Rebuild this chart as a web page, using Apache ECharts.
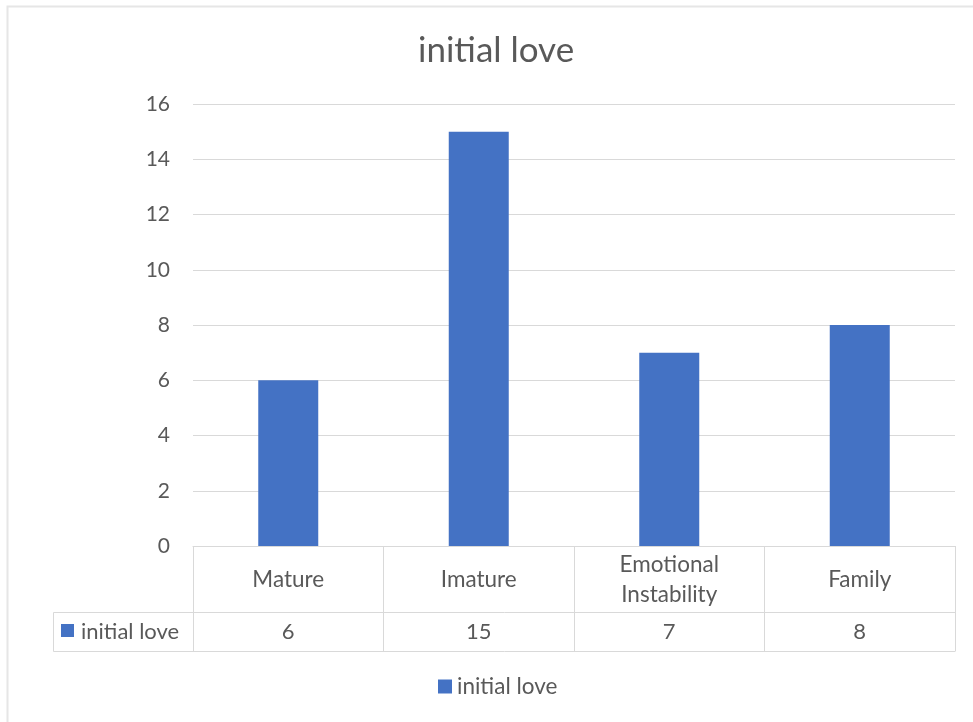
<!DOCTYPE html>
<html><head><meta charset="utf-8">
<script src="https://cdn.jsdelivr.net/npm/echarts@6/dist/echarts.min.js"></script>
<style>html,body{margin:0;padding:0;background:#fff}#c{width:973px;height:722px}</style>
</head><body><div id="c"></div>
<script>
const titleText = 'initial love';
const seriesName = 'initial love';
const categories = ['Mature', 'Imature', 'Emotional\nInstability', 'Family'];
const values = [6, 15, 7, 8];
const yMin = 0, yMax = 16, yStep = 2;

const FONT = 'Lato, "Open Sans", sans-serif';
const TXT = '#595959';
const LINE = '#d9d9d9';
const W = 973, H = 722;
const gridL = 193, gridR = 18, gridT = 104, gridB = 176;
const row1 = 66, row2 = 39, tableL = 53;
const axisY = H - gridB;

const chart = echarts.init(document.getElementById('c'), null, {renderer: 'canvas'});
chart.setOption({
  animation: false,
  backgroundColor: '#fff',
  title: {text: titleText, left: 413, top: 28,
    textStyle: {fontFamily: FONT, fontSize: 35, fontWeight: 'normal', color: TXT}},
  legend: {data: [seriesName], top: 670, left: 433, icon: 'rect', itemWidth: 14, itemHeight: 14,
    textStyle: {fontFamily: FONT, fontSize: 22.5, color: TXT}},
  grid: {left: gridL, right: gridR, top: gridT, bottom: gridB, containLabel: false},
  xAxis: [{
    type: 'category', data: categories, position: 'bottom',
    axisLine: {show: true, lineStyle: {color: LINE, width: 1}},
    axisTick: {show: true, length: row1 + row2, lineStyle: {color: LINE}},
    axisLabel: {margin: row1 / 2 + 1, verticalAlign: 'middle', fontFamily: FONT, fontSize: 22.5,
      color: TXT, lineHeight: 30, interval: 0},
    splitLine: {show: false}
  }, {
    type: 'category', data: values.map(String), position: 'bottom', offset: row1,
    axisLine: {show: false}, axisTick: {show: false},
    axisLabel: {margin: row2 / 2, verticalAlign: 'middle', fontFamily: FONT, fontSize: 22,
      color: TXT, interval: 0}
  }],
  yAxis: {
    type: 'value', min: yMin, max: yMax, interval: yStep,
    axisLine: {show: false}, axisTick: {show: false},
    axisLabel: {margin: 23, fontFamily: FONT, fontSize: 21, color: TXT},
    splitLine: {lineStyle: {color: LINE, width: 1}}
  },
  series: [{
    name: seriesName, type: 'bar', data: values, barWidth: 60,
    itemStyle: {color: '#4472c4'}
  }],
  graphic: [
    {type: 'rect', shape: {x: 7.5, y: 6.5, width: W, height: H}, style: {fill: 'none', stroke: '#e6e6e6', lineWidth: 2}, silent: true},
    {type: 'line', shape: {x1: tableL + 0.5, y1: axisY + row1 + 0.5, x2: W - gridR + 0.5, y2: axisY + row1 + 0.5}, style: {stroke: LINE, lineWidth: 1}},
    {type: 'line', shape: {x1: tableL + 0.5, y1: axisY + row1 + row2 + 0.5, x2: W - gridR + 0.5, y2: axisY + row1 + row2 + 0.5}, style: {stroke: LINE, lineWidth: 1}},
    {type: 'line', shape: {x1: tableL + 0.5, y1: axisY + row1 + 0.5, x2: tableL + 0.5, y2: axisY + row1 + row2 + 0.5}, style: {stroke: LINE, lineWidth: 1}},
    {type: 'rect', shape: {x: 61, y: axisY + row1 + 12, width: 13, height: 13}, style: {fill: '#4472c4'}},
    {type: 'text', x: 81, y: axisY + row1 + row2 / 2, style: {text: seriesName, fontFamily: FONT, fontSize: 22, fill: TXT, verticalAlign: 'middle', align: 'left'}}
  ]
});
</script></body></html>
